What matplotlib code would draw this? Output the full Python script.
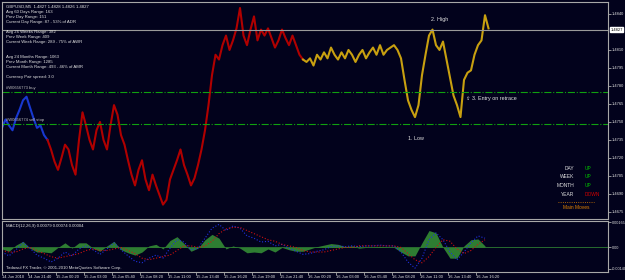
import numpy as np
import matplotlib.pyplot as plt
import matplotlib.transforms as mtransforms

plt.rcParams['font.family'] = ['Liberation Sans', 'DejaVu Sans']

# close prices, one sample every 4 bars (M5)
blue_close = [1.4745, 1.4752, 1.4747, 1.4743, 1.4753, 1.4760, 1.4768, 1.4771, 1.4762, 1.4753,
              1.4745, 1.4747, 1.4739, 1.4735]
red_close = [1.4727, 1.4717, 1.4710, 1.4720, 1.4731, 1.4727, 1.4714, 1.4706, 1.4735, 1.4758,
             1.4747, 1.4735, 1.4727, 1.4743, 1.4750, 1.4735, 1.4727, 1.4747, 1.4764, 1.4756,
             1.4739, 1.4731, 1.4718, 1.4706, 1.4697, 1.4710, 1.4718, 1.4702, 1.4693, 1.4706,
             1.4697, 1.4689, 1.4681, 1.4685, 1.4702, 1.4710, 1.4718, 1.4727, 1.4714, 1.4706,
             1.4697, 1.4703, 1.4714, 1.4727, 1.4743, 1.4764, 1.4789, 1.4806, 1.4802, 1.4814,
             1.4822, 1.4810, 1.4818, 1.4828, 1.4845, 1.4822, 1.4814, 1.4827, 1.4838, 1.4818,
             1.4827, 1.4822, 1.4828, 1.4820, 1.4812, 1.4818, 1.4827, 1.4820, 1.4814, 1.4822,
             1.4814, 1.4806, 1.4802]
yellow_close = [1.4800, 1.4803, 1.4797, 1.4806, 1.4802, 1.4808, 1.4803, 1.4812, 1.4806, 1.4802,
                1.4808, 1.4803, 1.4810, 1.4806, 1.4800, 1.4806, 1.4810, 1.4803, 1.4808, 1.4812,
                1.4806, 1.4814, 1.4806, 1.4810, 1.4812, 1.4814, 1.4810, 1.4803, 1.4785, 1.4768,
                1.4760, 1.4754, 1.4764, 1.4789, 1.4806, 1.4822, 1.4827, 1.4814, 1.4810, 1.4817,
                1.4802, 1.4787, 1.4772, 1.4764, 1.4754, 1.4785, 1.4791, 1.4793, 1.4806, 1.4814,
                1.4818, 1.4839, 1.4828]

# MACD panel, one sample every 8 bars
macd_main = [-0.0003, -0.00055, -0.00015, 0.0003, -0.00005, -0.0005, -0.0007, -0.00095, -0.0007, -0.0003,
             -0.00055, -0.0001, 0.0001, -0.00015, -0.00045, -0.0001, 0.0003, -0.00015, -0.00055, -0.0009,
             -0.001, -0.0007, -0.0005, -0.0007, -0.00005, 0.0005, 0.00035, -0.00015, -0.00005, 0.0006,
             0.00125, 0.0015, 0.0011, 0.0014, 0.00125, 0.00075, 0.0006, 0.00035, 0.0004, 0.0001,
             0.0002, -0.00005, -0.00025, -0.00045, -0.0004, -0.00025, -0.00015, 0.00005, 0.0001, 0.00005,
             0.0001, 0.00005, 0.0001, 0.0001, 0.00015, 0.0001, 0.0001, -0.0003, -0.00095, -0.00135,
             -0.0007, 0.0005, 0.00095, 0.0005, -0.0003, -0.0008, -0.0003, 0.0003, 0.00075, 0.0006]
macd_signal = [-0.0002, -0.0003, -0.0003, -0.0001, 0.0, -0.0002, -0.0004, -0.0006, -0.0007, -0.0006,
               -0.0005, -0.0004, -0.0002, -0.0001, -0.0002, -0.0002, -0.0001, 0.0, -0.0002, -0.0004,
               -0.0007, -0.0008, -0.0007, -0.0006, -0.0005, -0.0002, 0.0001, 0.0001, 0.0, 0.0001,
               0.0004, 0.0009, 0.0012, 0.0013, 0.0013, 0.0011, 0.0009, 0.0007, 0.0005, 0.0004,
               0.0002, 0.0001, 0.0, -0.0002, -0.0003, -0.0003, -0.0003, -0.0002, -0.0001, 0.0,
               0.0, 0.0001, 0.0001, 0.0001, 0.0001, 0.0001, 0.0001, 0.0, -0.0004, -0.0008,
               -0.0010, -0.0006, 0.0, 0.0005, 0.0004, -0.0001, -0.0004, -0.0002, 0.0002, 0.0005]

price_ticks = [1.4840, 1.4810, 1.4795, 1.4780, 1.4765, 1.4750, 1.4735, 1.4720, 1.4705, 1.4690, 1.4675]
current_price = 1.4827
buy_level = 1.4775
sell_level = 1.4748

time_labels = ["14 Jun 2010", "14 Jun 21:40", "15 Jun 00:20", "15 Jun 03:00", "15 Jun 05:40",
               "15 Jun 08:20", "15 Jun 11:00", "15 Jun 13:40", "15 Jun 16:20", "15 Jun 19:00",
               "15 Jun 21:40", "16 Jun 00:20", "16 Jun 03:00", "16 Jun 05:40", "16 Jun 08:20",
               "16 Jun 11:00", "16 Jun 13:40", "16 Jun 16:20"]

info_lines = ["GBPUSD,M5  1.4827 1.4828 1.4826 1.4827",
              "Avg 60 Days Range: 163",
              "Prev Day Range: 151",
              "Current Day Range: 87 - 53% of ADR",
              "",
              "Avg 26 Weeks Range: 382",
              "Prev Week Range: 409",
              "Current Week Range: 289 - 75% of AWR",
              "",
              "",
              "Avg 24 Months Range: 1063",
              "Prev Month Range: 1285",
              "Current Month Range: 493 - 46% of AMR",
              "",
              "Currency Pair spread: 3.0"]

moves_names = ["DAY", "WEEK", "MONTH", "YEAR"]
moves_values = ["UP", "UP", "UP", "DOWN"]

bg = '#02021c'
fg = '#e2e2e2'
frame = '#a8a8a8'
px = 0.875  # pixels per bar

fig = plt.figure(figsize=(6.25, 2.8), dpi=100, facecolor=bg)
ax = fig.add_axes([2 / 625, 1 - 219 / 280, 606 / 625, 217 / 280], facecolor=bg)
ax2 = fig.add_axes([2 / 625, 1 - 272 / 280, 606 / 625, 51 / 280], facecolor=bg)

# bar positions of the samples
n_b, n_r, n_y = len(blue_close), len(red_close), len(yellow_close)
x_all = np.arange(n_b + n_r + n_y) * 4
xb = x_all[:n_b]
xr = x_all[n_b - 1:n_b + n_r]
xy = x_all[n_b + n_r - 1:]

ax.plot(xb, blue_close, color='#1838d0', lw=1.5)
ax.plot(xr, [blue_close[-1]] + red_close, color='#b00000', lw=1.5)
ax.plot(xy, [red_close[-1]] + yellow_close, color='#c8a010', lw=1.5)

xmax = 606 / px
ax.set_xlim(0, xmax)
ax.set_ylim(1.4669, 1.4850)

ax.axhline(current_price, color='#9a9a9a', lw=0.8)
ax.axhline(buy_level, color='#10a010', lw=0.8, ls='-.')
ax.axhline(sell_level, color='#10a010', lw=0.8, ls='-.')
ax.text(4, buy_level + 0.00015, "#W0656773 buy", color='#c0c0c0', fontsize=3.0, va='bottom')
ax.text(4, sell_level + 0.00015, "#W0656774 sell stop", color='#c0c0c0', fontsize=3.0, va='bottom')

ax.yaxis.tick_right()
ax.set_yticks(price_ticks)
ax.set_yticklabels([f"{v:.4f}" for v in price_ticks])
ax.tick_params(axis='y', colors=frame, labelcolor=fg, labelsize=2.9, length=2, width=0.6, pad=1)
ax.set_xticks([])
for s in ax.spines.values():
    s.set_color(frame)
    s.set_linewidth(0.8)

trans = mtransforms.blended_transform_factory(ax.transAxes, ax.transData)
ax.text(1.004, current_price, f"{current_price:.4f}", transform=trans, fontsize=2.9, color='black',
        va='center', ha='left', bbox=dict(boxstyle='square,pad=0.15', fc='white', ec='white'))

# info block
for i, line in enumerate(info_lines):
    ax.text(0.006, 0.988 - i * 0.0232, line, transform=ax.transAxes, color=fg, fontsize=3.1, va='top')

# annotations (pixel positions converted to bars)
ax.text((431 - 2) / px, 1.4834, "2. High", color=fg, fontsize=3.9)
ax.text((408 - 2) / px, 1.4735, "1. Low", color=fg, fontsize=3.9)
ax.text((466 - 2) / px, 1.4768, "\u21e7 3. Entry on retrace", color=fg, fontsize=3.9)

# main moves box
for i, (nm, vl) in enumerate(zip(moves_names, moves_values)):
    yy = 0.234 - i * 0.040
    ax.text(0.9438, yy, nm, transform=ax.transAxes, color=fg, fontsize=3.5, ha='right', va='center')
    ax.text(0.962, yy, vl, transform=ax.transAxes, color='#00c000' if vl == "UP" else '#d00000',
            fontsize=3.5, ha='left', va='center')
ax.plot([0.917, 0.977], [0.078, 0.078], transform=ax.transAxes, color='#e08000', lw=0.6, ls=':')
ax.text(0.948, 0.053, "Main Moves", transform=ax.transAxes, color='#e08000', fontsize=3.5,
        ha='center', va='center')

# MACD panel
xm = np.arange(len(macd_main)) * 8
hist = np.array(macd_main) - np.array(macd_signal)
ax2.fill_between(xm, 0, hist, color='#2e7d32', lw=0)
ax2.axhline(0, color='#2e7d32', lw=0.6)
ax2.plot(xm, macd_main, color='#2030e0', lw=0.8, ls=':')
ax2.plot(xm, macd_signal, color='#d01010', lw=0.8, ls=':')
ax2.set_xlim(0, xmax)
ax2.set_ylim(-0.0016, 0.00172)
ax2.yaxis.tick_right()
ax2.set_yticks([0.00165, 0.0, -0.00140])
ax2.set_yticklabels(["0.00165", "0.00", "-0.00140"])
ax2.tick_params(axis='y', colors=frame, labelcolor=fg, labelsize=2.7, length=2, width=0.6, pad=0.5)
tick_pos = [0] + [29.7 + 32 * i for i in range(len(time_labels) - 1)]
ax2.set_xticks(tick_pos)
ax2.set_xticklabels(time_labels)
ax2.tick_params(axis='x', colors=frame, labelcolor=fg, labelsize=2.9, length=2, width=0.6, pad=0.5)
for lab in ax2.get_xticklabels():
    lab.set_ha('left')
for s in ax2.spines.values():
    s.set_color(frame)
    s.set_linewidth(0.8)
ax2.text(0.006, 0.95, "MACD(12,26,9) 0.00079 0.00074 0.00004", transform=ax2.transAxes,
         color=fg, fontsize=3.1, va='top')
ax2.text(0.006, 0.04, "Tadawul FX Trader, \u00a9 2001-2010 MetaQuotes Software Corp.",
         transform=ax2.transAxes, color=fg, fontsize=3.1, va='bottom')

fig.savefig("out.png", dpi=100, facecolor=bg)
